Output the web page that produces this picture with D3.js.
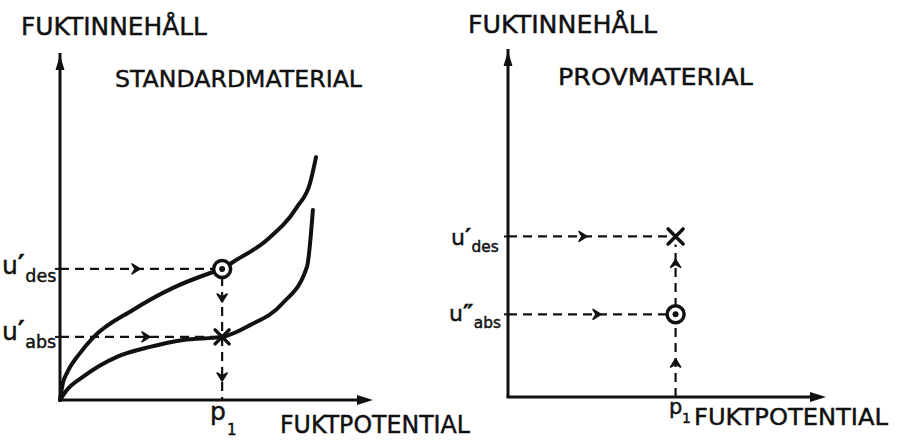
<!DOCTYPE html>
<html><head><meta charset="utf-8">
<script src="https://cdn.jsdelivr.net/npm/d3@7"></script>
<style>html,body{margin:0;padding:0;background:#fff}svg{display:block}text{font-family:"DejaVu Sans",sans-serif;fill:#111;stroke:#111;stroke-width:0.45px}</style>
</head><body><svg id="c" width="904" height="445"></svg>
<script>
// ---- data (abstract units 0..100 on both axes) ----
const axisTitles = ["FUKTINNEHÅLL", "FUKTPOTENTIAL"];
const panelTitles = ["STANDARDMATERIAL", "PROVMATERIAL"];
const p1 = [51.8, 52.7];
const leftTicks = [{sym:"u", prime:"′", sub:"des", v:38}, {sym:"u", prime:"′", sub:"abs", v:18.3}];
const rightTicks = [{sym:"u", prime:"′", sub:"des", v:46.4}, {sym:"u", prime:"″", sub:"abs", v:23.9}];
const desorptionX = [0, 1, 2.2, 6.4, 10.5, 23.3, 36.1, 48.9, 51.8, 55.3, 66.1, 75.7, 79.9, 81.8];
const desorptionY = [0, 5.2, 7.8, 13.6, 18, 26.1, 32.5, 37.1, 38, 40, 46.4, 55.9, 62.9, 70.4];
const absorptionX = [0, 2.2, 7.3, 18.2, 28.8, 39.3, 51.8, 60.7, 71.2, 78.9, 80.8];
const absorptionY = [0, 2.9, 6.7, 12.5, 15.4, 17.4, 18.3, 21.7, 28.1, 38.6, 55.1];

const svg = d3.select("#c");
const ink = "#111";

function panel(cfg) {
  const x = d3.scaleLinear().domain([0,100]).range(cfg.xr);
  const y = d3.scaleLinear().domain([0,100]).range(cfg.yr);
  const g = svg.append("g");
  g.append("line").attr("x1", x(0)).attr("y1", y(0)).attr("x2", x(0)).attr("y2", y(100)-2)
    .attr("stroke", ink).attr("stroke-width", 3);
  g.append("line").attr("x1", x(0)-1.5).attr("y1", y(0)).attr("x2", x(100)-10).attr("y2", y(0))
    .attr("stroke", ink).attr("stroke-width", 3);
  g.append("path").attr("d", `M${x(0)},${y(100)} l-4.5,15 l9,0 z`).attr("fill", ink);
  g.append("path").attr("d", `M${x(100)},${y(0)} l-16,-5 l0,10 z`).attr("fill", ink);
  return {g, x, y};
}
function dashed(g, x1, y1, x2, y2) {
  g.append("line").attr("x1", x1).attr("y1", y1).attr("x2", x2).attr("y2", y2)
    .attr("stroke", ink).attr("stroke-width", 2.2).attr("stroke-dasharray", "9,6");
}
function chevron(g, cx, cy, dir) {
  const rot = {r:0, d:90, u:-90}[dir];
  g.append("path").attr("d", "M-4,-5 L4,0 L-4,5 L-1,0 Z")
    .attr("transform", `translate(${cx},${cy}) rotate(${rot})`)
    .attr("fill", ink).attr("stroke", ink).attr("stroke-width", 1.5).attr("stroke-linejoin", "round");
}
function ring(g, cx, cy) {
  g.append("circle").attr("cx", cx).attr("cy", cy).attr("r", 8.5).attr("fill", "#fff")
    .attr("stroke", ink).attr("stroke-width", 3.5);
  g.append("circle").attr("cx", cx).attr("cy", cy).attr("r", 3).attr("fill", ink);
}
function cross(g, cx, cy, s) {
  g.append("path").attr("d", `M${cx-s},${cy-s} L${cx+s},${cy+s} M${cx+s},${cy-s} L${cx-s},${cy+s}`)
    .attr("stroke", ink).attr("stroke-width", 3.5).attr("stroke-linecap", "round");
}
function txt(t, x, y, size, len) {
  const e = svg.append("text").attr("x", x).attr("y", y).attr("font-size", size).text(t);
  if (len) e.attr("textLength", len).attr("lengthAdjust", "spacingAndGlyphs");
  return e;
}
// u-label: symbol with prime as one text, subscript as a second text to its right
function ulabel(tk, x, yb, s) {
  const u = svg.append("text").attr("x", x).attr("y", yb).attr("font-size", s);
  u.append("tspan").text(tk.sym);
  u.append("tspan").attr("font-weight", "bold").attr("font-size", s*1.05).text(tk.prime);
  const w = u.node().getComputedTextLength();
  svg.append("text").attr("x", x + w + 0.5).attr("y", yb + s*0.3).attr("font-size", s*0.7).text(tk.sub);
}

// ---- left panel ----
const L = panel({xr:[60,373], yr:[400,55]});
const line = d3.line().x(d => L.x(d[0])).y(d => L.y(d[1])).curve(d3.curveMonotoneX);
L.g.append("path").attr("d", line(d3.zip(desorptionX, desorptionY))).attr("fill","none")
  .attr("stroke", ink).attr("stroke-width", 4).attr("stroke-linecap","round");
L.g.append("path").attr("d", line(d3.zip(absorptionX, absorptionY))).attr("fill","none")
  .attr("stroke", ink).attr("stroke-width", 4).attr("stroke-linecap","round");
{
  const px = L.x(p1[0]), yd = L.y(leftTicks[0].v), ya = L.y(leftTicks[1].v);
  dashed(L.g, L.x(0), yd, px - 8, yd);
  dashed(L.g, L.x(0), ya, px, ya);
  dashed(L.g, px, yd + 8, px, L.y(0));
  chevron(L.g, L.x(0) + 76, yd, "r");
  chevron(L.g, L.x(0) + 86, ya, "r");
  chevron(L.g, px, L.y(0) - 102, "d");
  chevron(L.g, px, L.y(0) - 23, "d");
  leftTicks.forEach(tk => L.g.append("line").attr("x1", L.x(0)-5).attr("x2", L.x(0)).attr("y1", L.y(tk.v)).attr("y2", L.y(tk.v)).attr("stroke", ink).attr("stroke-width", 2));
  ring(L.g, px, yd);
  cross(L.g, px, ya, 7);
}
txt(axisTitles[0], 21, 35, 24, 186);
txt(panelTitles[0], 115, 87, 23, 247);
txt(axisTitles[1], 280, 433, 24, 190);
svg.append("text").attr("x", 210).attr("y", 420).attr("font-size", 25).text("p");
svg.append("text").attr("x", 227).attr("y", 435).attr("font-size", 15).text("1");
ulabel(leftTicks[0], 2, 274, 25);
ulabel(leftTicks[1], 2, 340, 25);

// ---- right panel ----
const R = panel({xr:[508,826], yr:[397,51]});
{
  const px = R.x(p1[1]), yd = R.y(rightTicks[0].v), ya = R.y(rightTicks[1].v);
  dashed(R.g, R.x(0), yd, px - 8, yd);
  dashed(R.g, R.x(0), ya, px - 8, ya);
  dashed(R.g, px, R.y(0), px, yd + 8);
  chevron(R.g, R.x(0) + 75, yd, "r");
  chevron(R.g, R.x(0) + 89, ya, "r");
  chevron(R.g, px, yd + 27, "u");
  chevron(R.g, px, R.y(0) - 34, "u");
  rightTicks.forEach(tk => R.g.append("line").attr("x1", R.x(0)-4).attr("x2", R.x(0)).attr("y1", R.y(tk.v)).attr("y2", R.y(tk.v)).attr("stroke", ink).attr("stroke-width", 2));
  ring(R.g, px, ya);
  cross(R.g, px, yd, 7.5);
}
txt(axisTitles[0], 468, 33, 24, 189);
txt(panelTitles[1], 558, 85, 23, 195);
txt(axisTitles[1], 694, 425, 23, 194);
svg.append("text").attr("x", 669).attr("y", 414).attr("font-size", 21).text("p");
svg.append("text").attr("x", 682).attr("y", 423).attr("font-size", 14).text("1");
ulabel(rightTicks[0], 451, 245, 22);
ulabel(rightTicks[1], 449, 321, 22);
</script></body></html>
